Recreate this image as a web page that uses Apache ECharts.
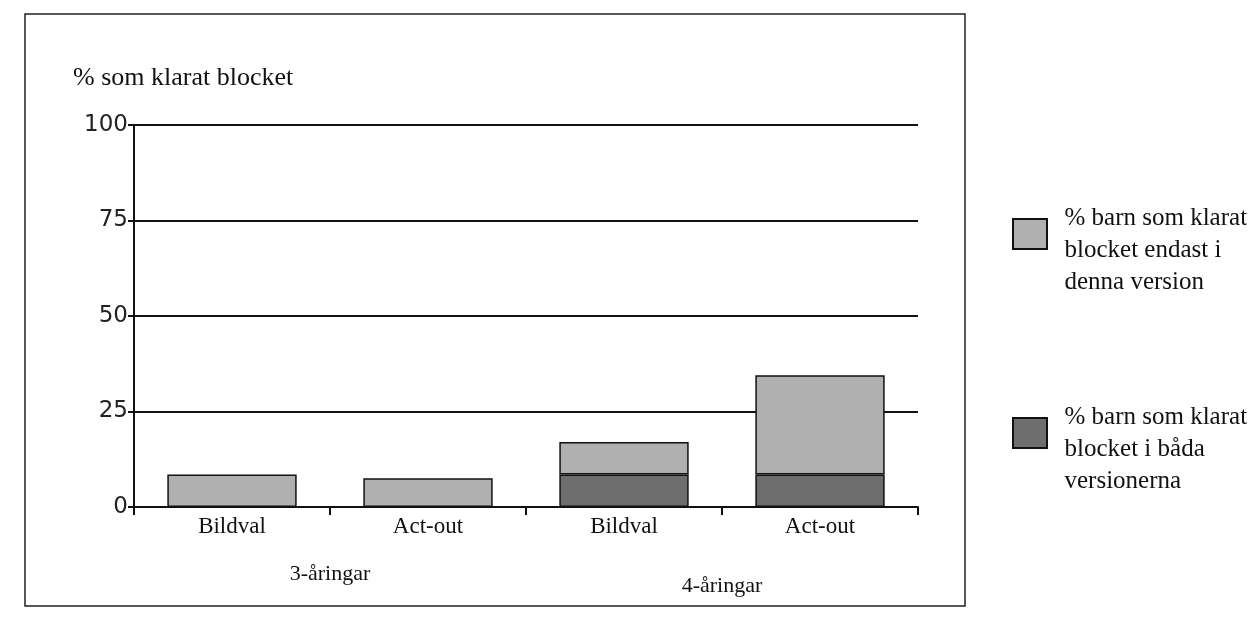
<!DOCTYPE html>
<html>
<head>
<meta charset="utf-8">
<script src="https://cdn.jsdelivr.net/npm/echarts@6/dist/echarts.min.js"></script>
<style>
  html, body { margin: 0; padding: 0; background: #fff; }
  #chart { width: 1260px; height: 629px; }
</style>
</head>
<body>
<div id="chart"></div>
<script>
// Chart data
const categories = ["Bildval", "Act-out", "Bildval", "Act-out"]
const groups = ["3-åringar", "4-åringar"]
const onlyThisVersion = [8.5, 7.5, 8.5, 26]
const bothVersions = [0, 0, 8.5, 8.5]
const yTicks = [0, 25, 50, 75, 100]

const serif = "'Liberation Serif', 'DejaVu Serif', serif"
const sans = "'DejaVu Sans', sans-serif"

const legendText = {
  only: ["% barn som klarat", "blocket endast i", "denna version"],
  both: ["% barn som klarat", "blocket i båda", "versionerna"],
}

const chart = echarts.init(document.getElementById("chart"))

const option = {
  backgroundColor: "#fff",
  animation: false,
  title: {
    text: "% som klarat blocket",
    left: 68,
    top: 60,
    textStyle: { fontFamily: serif, fontSize: 26, fontWeight: "normal", color: "#111" },
  },
  legend: {
    orient: "vertical",
    left: 1007,
    top: 133,
    itemWidth: 34,
    itemHeight: 30,
    itemGap: 7,
    icon: "rect",
    data: ["only", "both"],
    // two blank lines first so the first real line sits level with the swatch
    formatter: (name) => "\n\n" + legendText[name].map((l) => "  " + l).join("\n") + "\n",
    textStyle: {
      fontFamily: serif,
      fontSize: 25,
      lineHeight: 32,
      color: "#111",
    },
  },
  grid: { left: 134, right: 342, top: 125, bottom: 122 },
  xAxis: [
    {
      type: "category",
      data: categories,
      axisLine: { lineStyle: { color: "#111", width: 2 } },
      axisTick: { show: true, length: 8, lineStyle: { color: "#111", width: 2 } },
      axisLabel: { fontFamily: serif, fontSize: 23, color: "#111", margin: 8 },
    },
    {
      type: "category",
      data: groups,
      position: "bottom",
      offset: 56,
      axisLine: { show: false },
      axisTick: { show: false },
      axisLabel: {
        margin: 0,
        formatter: (v, i) => (i === 0 ? "{a|" + v + "}" : "{b|" + v + "}"),
        rich: {
          a: { fontFamily: serif, fontSize: 22, color: "#111" },
          b: { fontFamily: serif, fontSize: 22, color: "#111", padding: [12, 0, 0, 0] },
        },
      },
    },
  ],
  yAxis: {
    type: "value",
    min: yTicks[0],
    max: yTicks[yTicks.length - 1],
    interval: 25,
    axisLine: { show: true, lineStyle: { color: "#111", width: 2 } },
    axisTick: { show: true, length: 6, lineStyle: { color: "#111", width: 2 } },
    axisLabel: { fontFamily: sans, fontSize: 23, color: "#222", margin: 6 },
    splitLine: { show: true, lineStyle: { color: "#111", width: 2 } },
  },
  series: [
    {
      name: "both",
      type: "bar",
      stack: "total",
      barWidth: "66%",
      data: bothVersions,
      itemStyle: { color: "#6e6e6e", borderColor: "#111", borderWidth: 1.5 },
    },
    {
      name: "only",
      type: "bar",
      stack: "total",
      barWidth: "66%",
      data: onlyThisVersion,
      itemStyle: { color: "#b0b0b0", borderColor: "#111", borderWidth: 1.5 },
    },
  ],
  graphic: [
    {
      type: "rect",
      shape: { x: 25, y: 14, width: 940, height: 592 },
      style: { fill: "none", stroke: "#222", lineWidth: 1.5 },
      silent: true,
    },
  ],
}

chart.setOption(option)
</script>
</body>
</html>
